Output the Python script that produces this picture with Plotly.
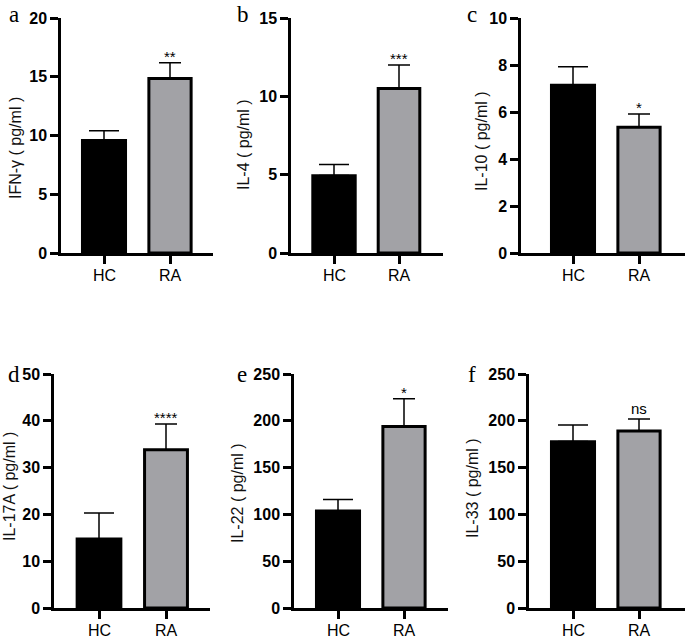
import plotly.graph_objects as go

# ---------------- data ----------------
panel_letters = ["a", "b", "c", "d", "e", "f"]
cytokines = ["IFN-γ", "IL-4", "IL-10", "IL-17A", "IL-22", "IL-33"]
groups = ["HC", "RA"]
hc_mean = [9.6, 4.95, 7.15, 14.8, 104, 178]
hc_sem = [0.8, 0.7, 0.78, 5.5, 12, 17.5]
ra_mean = [14.85, 10.5, 5.35, 33.8, 194, 189]
ra_sem = [1.35, 1.5, 0.56, 5.5, 29.5, 13]
significance = ["**", "***", "*", "****", "*", "ns"]
y_max = [20, 15, 10, 50, 250, 250]
y_dtick = [5, 5, 2, 10, 50, 50]

# ---------------- layout geometry (pixels) ----------------
W, H = 685, 638
# y-axis line x, HC tick x, RA tick x, x-axis right end, top y, zero y
geom = [
    (61, 104, 170, 213, 18, 253),
    (291, 334, 399, 443, 18, 253),
    (521, 573, 639, 685, 18, 253),
    (54, 99, 166, 210, 374, 608),
    (294, 338, 404, 448, 374, 608),
    (529, 573, 639, 685, 374, 608),
]
letter_pos = [(14, 0), (243, 0), (472, 0), (14, 360), (242, 360), (472, 360)]
title_pos = [(15, 148), (243, 144), (481, 141), (9, 487), (237, 493), (472, 488)]

FONT = "Liberation Sans, Arial, sans-serif"
HC_COLOR = "#000000"
RA_COLOR = "#a2a2a6"

fig = go.Figure()
annotations = []

for i in range(6):
    ax_x, hc_px, ra_px, right_px, top_px, zero_px = geom[i]
    spacing = ra_px - hc_px
    r0 = -(hc_px - ax_x) / spacing
    r1 = 1 + (right_px - ra_px) / spacing
    xa = "x" if i == 0 else f"x{i+1}"
    ya = "y" if i == 0 else f"y{i+1}"
    xkey = "xaxis" if i == 0 else f"xaxis{i+1}"
    ykey = "yaxis" if i == 0 else f"yaxis{i+1}"

    fig.add_trace(go.Bar(
        x=[groups[0]], y=[hc_mean[i]], xaxis=xa, yaxis=ya, width=0.66,
        marker=dict(color=HC_COLOR, line=dict(color="black", width=2.5)),
        error_y=dict(type="data", array=[hc_sem[i]], arrayminus=[0], symmetric=False,
                     color="black", thickness=1.5, width=15),
        showlegend=False, hoverinfo="skip",
    ))
    fig.add_trace(go.Bar(
        x=[groups[1]], y=[ra_mean[i]], xaxis=xa, yaxis=ya, width=0.64,
        marker=dict(color=RA_COLOR, line=dict(color="black", width=3)),
        error_y=dict(type="data", array=[ra_sem[i]], arrayminus=[0], symmetric=False,
                     color="black", thickness=1.5, width=11),
        showlegend=False, hoverinfo="skip",
    ))

    yticks = list(range(0, y_max[i] + 1, y_dtick[i]))
    fig.layout[xkey] = dict(
        domain=[ax_x / W, min(right_px / W, 1.0)], anchor=ya, automargin=False,
        type="category", categoryorder="array", categoryarray=groups,
        range=[r0, r1], showline=True, linecolor="black", linewidth=2.5,
        ticks="outside", ticklen=8, tickwidth=2.5, tickcolor="black",
        showticklabels=False, showgrid=False, zeroline=False,
    )
    fig.layout[ykey] = dict(
        domain=[1 - zero_px / H, 1 - top_px / H], anchor=xa, automargin=False,
        range=[0, y_max[i]], tickmode="array", tickvals=yticks,
        ticktext=[f"<b>{v}</b>" for v in yticks],
        showline=True, linecolor="black", linewidth=2.5,
        ticks="outside", ticklen=8, tickwidth=2.5, tickcolor="black",
        showgrid=False, zeroline=False,
        tickfont=dict(family=FONT, size=16, color="black", weight="bold"),
    )

    # category labels under the x axis
    for g in groups:
        annotations.append(dict(
            x=g, y=0, xref=xa, yref=ya, text=g, showarrow=False,
            xanchor="center", yanchor="top", yshift=-12,
            font=dict(family=FONT, size=16, color="black"),
        ))

    sig = significance[i]
    annotations.append(dict(
        x=groups[1], y=ra_mean[i] + ra_sem[i], xref=xa, yref=ya,
        text=sig, showarrow=False, yanchor="bottom", xanchor="center",
        yshift=(-4 if sig != "ns" else 0),
        font=dict(family=FONT, size=15, color="black"),
    ))
    lx, ly = letter_pos[i]
    annotations.append(dict(
        x=lx / W, y=1 - ly / H, xref="paper", yref="paper",
        text=panel_letters[i], showarrow=False, xanchor="center", yanchor="top",
        font=dict(family="Liberation Serif, Times New Roman, serif", size=23, color="black"),
    ))
    tx, ty = title_pos[i]
    annotations.append(dict(
        x=tx / W, y=1 - ty / H, xref="paper", yref="paper",
        text=f"{cytokines[i]} ( pg/ml )", showarrow=False, textangle=-90,
        xanchor="center", yanchor="middle",
        font=dict(family=FONT, size=16, color="#111111"),
    ))

fig.update_layout(
    template="none",
    width=W, height=H, margin=dict(l=0, r=0, t=0, b=0, pad=0, autoexpand=False),
    paper_bgcolor="white", plot_bgcolor="white",
    barmode="overlay", annotations=annotations, showlegend=False,
)

fig.write_html(
    "out.html",
    config={"displayModeBar": False},
    post_script="document.body.style.margin='0px';document.body.style.overflow='hidden';",
)
